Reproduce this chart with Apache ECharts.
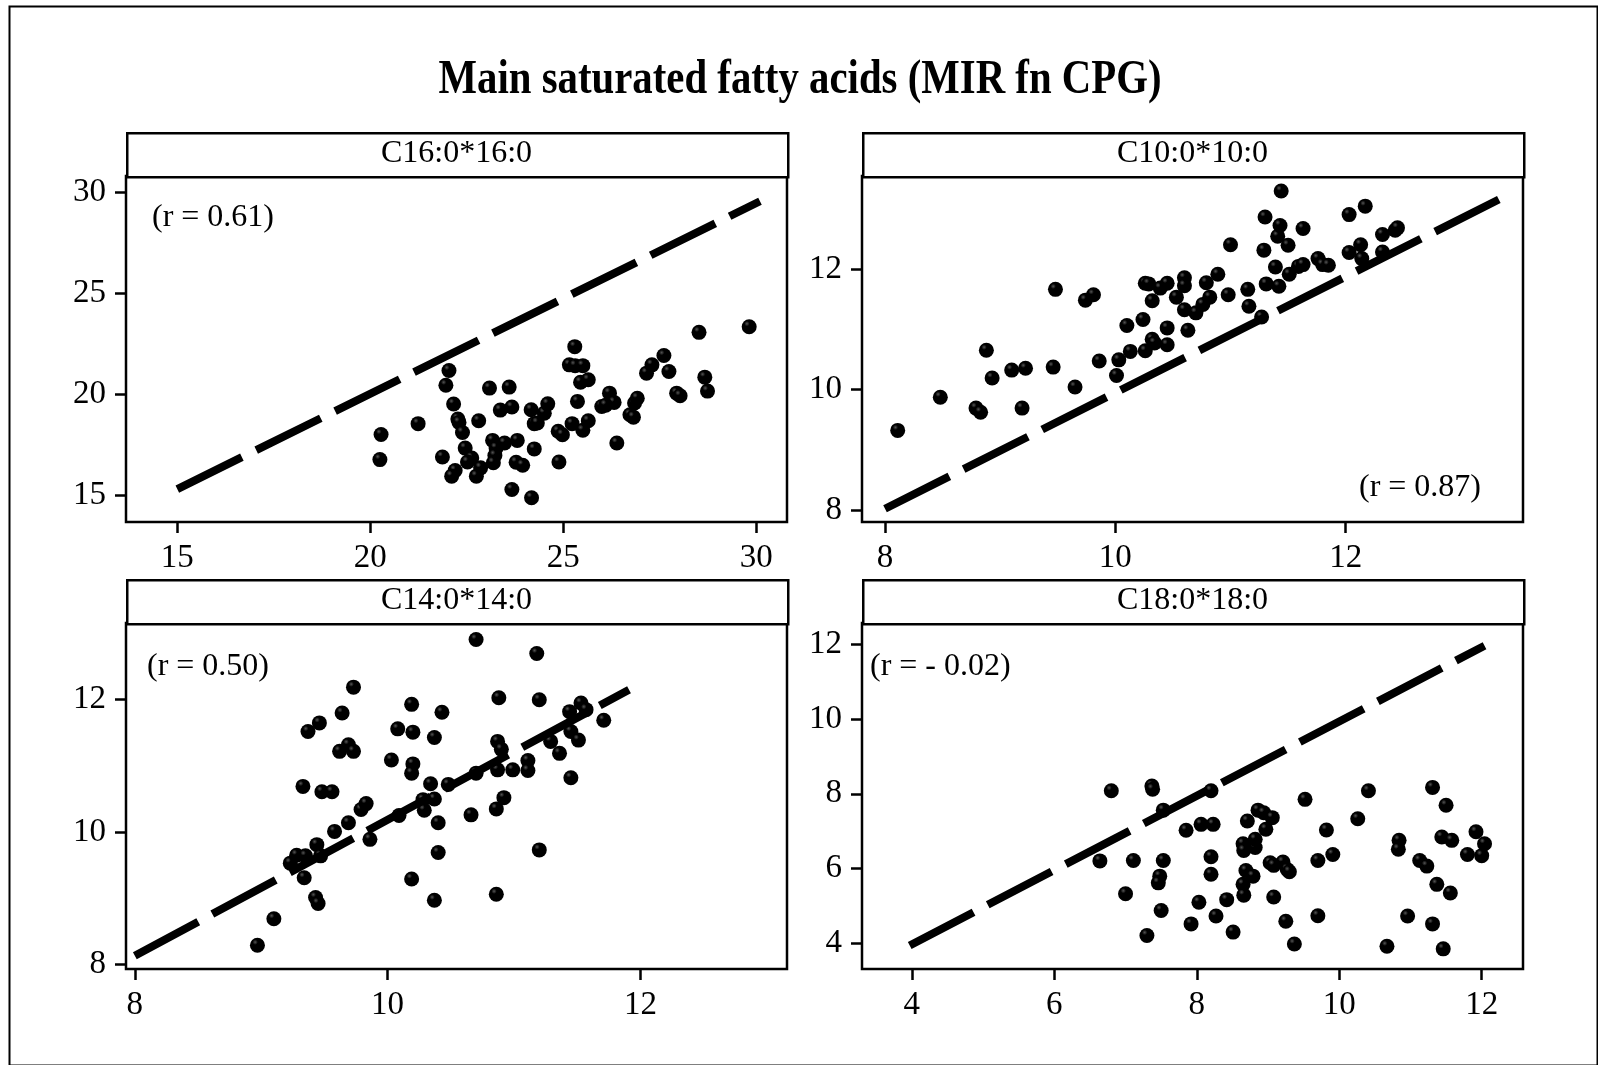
<!DOCTYPE html>
<html>
<head>
<meta charset="utf-8">
<script src="https://cdn.jsdelivr.net/npm/echarts@6/dist/echarts.min.js"></script>
<style>
  html, body { margin: 0; padding: 0; background: #fff; }
  #main { width: 1598px; height: 1065px; }
</style>
</head>
<body>
<div id="main"></div>
<script>
// panel titles and r values
var panelNames = ['C16:0*16:0', 'C10:0*10:0', 'C14:0*14:0', 'C18:0*18:0']
var rLabels = ['(r = 0.61)', '(r = 0.87)', '(r = 0.50)', '(r = - 0.02)']

// tick labels
var c16Ticks = [15, 20, 25, 30]
var c10Ticks = [8, 10, 12]
var c14Ticks = [8, 10, 12]
var c18XTicks = [4, 6, 8, 10, 12]
var c18YTicks = [4, 6, 8, 10, 12]

// axis ranges (same on both axes)
var c16Range = [13.67, 30.8]
var c10Range = [7.8, 13.54]
var c14Range = [7.93, 13.16]
var c18Range = [3.3, 12.58]

// dashed reference lines, [start, end]
var c16Line = [[15, 15.3], [30.1, 29.55]]
var c10Line = [[8, 8.02], [13.33, 13.15]]
var c14Line = [[8, 8.13], [11.91, 12.15]]
var c18Line = [[3.97, 3.93], [12.04, 11.97]]

// C16:0
var c16X = [20.28, 20.25, 21.24, 22.04, 21.96, 22.16, 22.27, 22.3, 22.39, 22.46, 21.87, 22.63, 22.52, 22.2, 22.11,
  22.81, 22.86, 22.75, 23.09, 23.17, 23.26, 23.23, 23.19, 23.37, 23.48, 23.6, 23.67, 23.81, 23.78, 23.95,
  23.67, 24.17, 24.25, 24.33, 24.25, 24.18, 24.51, 24.6, 24.87, 24.98, 24.89, 25.16, 25.3, 25.31, 25.51,
  25.45, 25.65, 25.37, 25.23, 25.51, 25.65, 26.0, 26.2, 26.32, 26.39, 26.73, 26.85, 26.92, 26.82, 27.16,
  27.3, 27.61, 27.74, 27.94, 28.03, 28.52, 28.67, 28.74, 29.82, 26.1]
var c16Y = [18.0, 16.76, 18.54, 21.17, 20.44, 19.51, 18.77, 18.6, 18.1, 17.33, 16.89, 16.84, 16.64, 16.22, 15.94,
  18.68, 16.35, 15.94, 20.3, 17.71, 17.33, 16.96, 16.6, 19.21, 17.58, 20.35, 19.36, 17.71, 16.63, 16.48,
  15.28, 19.23, 18.54, 18.57, 17.29, 14.87, 19.06, 19.52, 18.16, 17.99, 16.64, 21.45, 22.35, 21.41, 21.41,
  20.59, 20.71, 19.64, 18.54, 18.21, 18.68, 19.39, 20.05, 19.59, 17.58, 18.98, 19.56, 19.8, 18.86, 21.04,
  21.45, 21.91, 21.12, 20.05, 19.92, 23.06, 20.84, 20.15, 23.34, 19.45]

// C10:0
var c10X = [8.11, 8.48, 8.79, 8.83, 8.88, 8.93, 9.1, 9.22, 9.19, 9.46, 9.48, 9.65, 9.74, 9.81, 9.86,
  10.01, 10.03, 10.1, 10.13, 10.24, 10.26, 10.32, 10.34, 10.26, 10.29, 10.32, 10.39, 10.45, 10.45, 10.45,
  10.53, 10.6, 10.6, 10.6, 10.63, 10.7, 10.76, 10.82, 10.79, 10.89, 10.98, 11.0, 11.15, 11.16, 11.27,
  11.29, 11.3, 11.31, 11.39, 11.42, 11.41, 11.43, 11.44, 11.5, 11.51, 11.59, 11.63, 11.63, 11.76, 11.8,
  11.85, 12.03, 12.03, 12.13, 12.14, 12.17, 12.32, 12.32, 12.43, 12.45]
var c10Y = [9.32, 9.87, 9.69, 9.62, 10.65, 10.19, 10.32, 10.35, 9.69, 10.37, 11.66, 10.04, 11.48, 11.57, 10.47,
  10.23, 10.49, 11.06, 10.63, 11.16, 10.64, 10.83, 10.77, 11.76, 11.75, 11.47, 11.68, 11.76, 11.02, 10.74,
  11.53, 11.85, 11.72, 11.32, 10.98, 11.27, 11.41, 11.53, 11.77, 11.91, 11.57, 12.4, 11.66, 11.38, 11.2,
  12.31, 12.86, 11.75, 12.03, 11.71, 12.54, 12.72, 13.29, 12.39, 11.91, 12.04, 12.07, 12.67, 12.17, 12.07,
  12.06, 12.9, 12.27, 12.4, 12.17, 13.04, 12.57, 12.28, 12.64, 12.68]

// C14:0
var c14X = [8.97, 9.1, 9.34, 9.43, 9.45, 9.23, 9.28, 9.35, 9.44, 9.47, 9.33, 9.48, 9.56, 9.58, 9.69,
  9.37, 9.46, 9.64, 9.62, 9.69, 9.73, 9.73, 9.79, 9.83, 9.86, 10.03, 10.08, 10.09, 10.19, 10.2,
  10.2, 10.19, 10.19, 10.28, 10.29, 10.34, 10.37, 10.4, 10.4, 10.37, 10.37, 10.43, 10.48, 10.66, 10.7,
  10.7, 10.86, 10.86, 10.88, 10.87, 10.9, 10.87, 10.92, 10.99, 11.11, 11.11, 11.18, 11.2, 11.2, 11.29,
  11.36, 11.44, 11.45, 11.45, 11.51, 11.53, 11.57, 11.71]
var c14Y = [8.29, 8.69, 9.31, 9.01, 8.92, 9.53, 9.65, 9.64, 9.81, 9.64, 10.69, 10.61, 10.61, 10.01, 10.14,
  11.52, 11.65, 11.8, 11.22, 11.32, 11.22, 12.19, 10.34, 10.43, 9.89, 11.09, 11.56, 10.25, 11.93, 11.51,
  11.03, 10.89, 9.29, 10.49, 10.33, 10.73, 10.5, 10.14, 9.69, 8.97, 11.43, 11.81, 10.72, 10.26, 12.91,
  10.89, 10.35, 9.06, 12.03, 11.37, 11.25, 10.94, 10.52, 10.94, 11.08, 10.93, 12.7, 12.0, 9.73, 11.37,
  11.19, 11.82, 11.52, 10.82, 11.39, 11.95, 11.85, 11.69]

// C18:0
var c18X = [6.64, 6.8, 7.0, 7.11, 7.3, 7.37, 7.38, 7.53, 7.53, 7.48, 7.46, 7.5, 7.85, 7.92, 8.03,
  8.06, 8.23, 8.2, 8.2, 8.2, 8.27, 8.42, 8.51, 8.65, 8.66, 8.65, 8.66, 8.69, 8.79, 8.71,
  8.82, 8.82, 8.86, 8.94, 9.06, 8.97, 9.03, 9.08, 9.08, 9.21, 9.27, 9.3, 9.25, 9.37, 9.52,
  9.7, 9.7, 9.82, 9.91, 10.26, 10.41, 10.67, 10.84, 10.83, 10.96, 11.13, 11.23, 11.31, 11.37, 11.31,
  11.5, 11.46, 11.44, 11.58, 11.56, 11.8, 11.92, 12.0, 12.04]
var c18Y = [6.2, 8.08, 5.32, 6.21, 4.2, 8.21, 8.12, 7.56, 6.21, 5.79, 5.61, 4.87, 7.02, 4.51, 5.09,
  7.18, 7.18, 8.08, 6.31, 5.84, 4.72, 5.16, 4.29, 5.57, 5.28, 6.66, 6.48, 5.94, 5.79, 7.27,
  6.56, 6.78, 7.56, 7.49, 7.36, 7.05, 6.15, 6.08, 5.23, 6.17, 5.97, 5.91, 4.58, 3.97, 7.85,
  6.21, 4.73, 7.03, 6.37, 7.33, 8.08, 3.91, 6.75, 6.51, 4.72, 6.21, 6.06, 8.17, 5.57, 4.51,
  7.69, 3.84, 6.84, 6.75, 5.34, 6.37, 6.98, 6.34, 6.66]

var FONT = "'Liberation Serif', 'Times New Roman', serif"

var panels = [
  { name: panelNames[0], r: rLabels[0], xs: c16X, ys: c16Y, range: c16Range, xt: c16Ticks, yt: c16Ticks, line: c16Line,
    left: 126, top: 176, rx: 152, ry: 218, rAlign: 'left' },
  { name: panelNames[1], r: rLabels[1], xs: c10X, ys: c10Y, range: c10Range, xt: c10Ticks, yt: c10Ticks, line: c10Line,
    left: 862, top: 176, rx: 1481, ry: 488, rAlign: 'right' },
  { name: panelNames[2], r: rLabels[2], xs: c14X, ys: c14Y, range: c14Range, xt: c14Ticks, yt: c14Ticks, line: c14Line,
    left: 126, top: 623, rx: 147, ry: 667, rAlign: 'left' },
  { name: panelNames[3], r: rLabels[3], xs: c18X, ys: c18Y, range: c18Range, xt: c18XTicks, yt: c18YTicks, line: c18Line,
    left: 862, top: 623, rx: 870, ry: 667, rAlign: 'left' }
]
var PW = 661, PH = 346, STRIP = 44

var dotColor = {
  type: 'radial', x: 0.35, y: 0.3, r: 0.7,
  colorStops: [{ offset: 0, color: '#555' }, { offset: 0.25, color: '#000' }, { offset: 1, color: '#000' }]
}

var grid = [], xAxis = [], yAxis = [], series = [], graphic = []

panels.forEach(function (p, i) {
  grid.push({ left: p.left, top: p.top, width: PW, height: PH, show: true,
    borderColor: '#000', borderWidth: 2.5, backgroundColor: 'transparent' })
  var tickStyle = { show: true, length: 11, lineStyle: { color: '#000', width: 2.5 } }
  var labelStyle = { color: '#000', fontFamily: FONT, fontSize: 33 }

  xAxis.push({
    type: 'value', position: 'bottom', gridIndex: i,
    min: p.range[0], max: p.range[1],
    splitLine: { show: false }, axisLine: { show: false },
    axisTick: Object.assign({ customValues: p.xt }, tickStyle),
    axisLabel: Object.assign({ customValues: p.xt, margin: 20 }, labelStyle)
  })
  yAxis.push({
    type: 'value', position: 'left', gridIndex: i,
    min: p.range[0], max: p.range[1],
    splitLine: { show: false }, axisLine: { show: false },
    axisTick: Object.assign({ customValues: p.yt }, tickStyle),
    axisLabel: Object.assign({ customValues: p.yt, margin: 20 }, labelStyle)
  })

  var pts = []
  p.xs.forEach(function (x, k) { pts.push([x, p.ys[k]]) })
  series.push({
    type: 'scatter', xAxisIndex: i, yAxisIndex: i, data: pts,
    symbol: 'circle', symbolSize: 15,
    itemStyle: { color: dotColor, opacity: 1 },
    silent: true, z: 3
  })
  series.push({
    type: 'line', xAxisIndex: i, yAxisIndex: i,
    data: p.line,
    symbol: 'none', silent: true, z: 4,
    lineStyle: { color: '#000', width: 8, type: [72, 16], cap: 'butt' }
  })

  // strip header
  graphic.push({ type: 'rect', left: p.left, top: p.top - STRIP, z: 10,
    shape: { width: PW, height: STRIP },
    style: { fill: '#fff', stroke: '#000', lineWidth: 2.5 } })
  graphic.push({ type: 'text', x: p.left + PW / 2, y: p.top - STRIP / 2, z: 11,
    style: { text: p.name, font: '32px ' + FONT, fill: '#000', align: 'center', verticalAlign: 'middle' } })
  // r annotation
  graphic.push({ type: 'text', x: p.rx, y: p.ry, z: 11,
    style: { text: p.r, font: '32px ' + FONT, fill: '#000', align: p.rAlign, verticalAlign: 'middle' } })
})

// outer frame
graphic.push({ type: 'rect', left: 7, top: 4, z: 0,
  shape: { width: 1588, height: 1059 },
  style: { fill: 'none', stroke: '#000', lineWidth: 2 } })
// title
graphic.push({ type: 'text', x: 800, y: 81, scaleX: 0.85, z: 11,
  style: { text: 'Main saturated fatty acids (MIR fn CPG)', font: 'bold 48px ' + FONT,
    fill: '#000', align: 'center', verticalAlign: 'middle' } })

var chart = echarts.init(document.getElementById('main'))
chart.setOption({
  backgroundColor: '#fff',
  animation: false,
  grid: grid,
  xAxis: xAxis,
  yAxis: yAxis,
  series: series,
  graphic: graphic
})
</script>
</body>
</html>
